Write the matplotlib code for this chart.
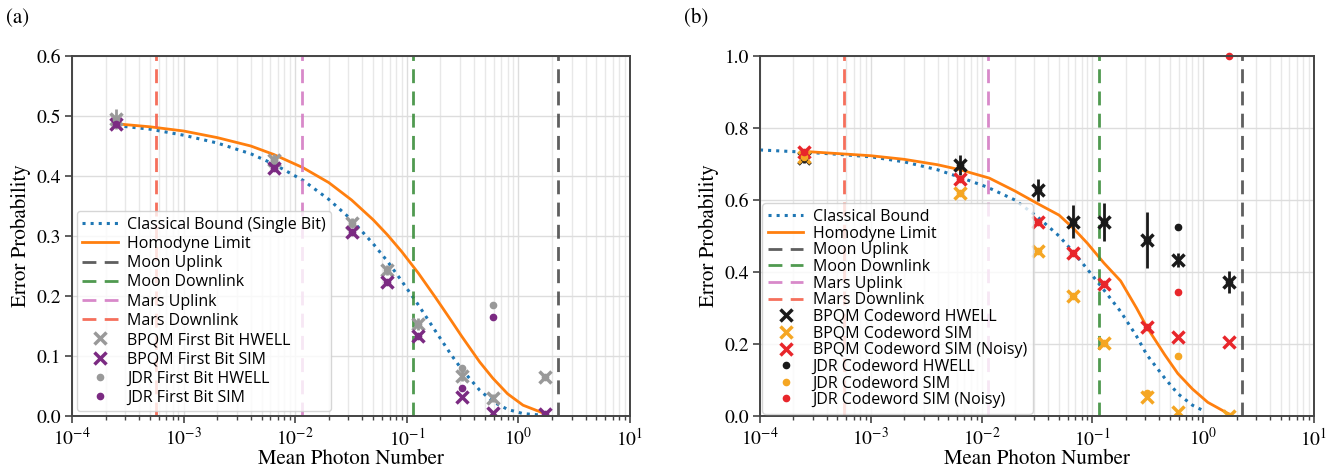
import matplotlib
matplotlib.use('Agg')
import matplotlib.pyplot as plt
from matplotlib.ticker import LogLocator, NullFormatter

plt.rcParams['font.family'] = 'serif'
plt.rcParams['font.serif'] = ['STIXGeneral', 'DejaVu Serif']
plt.rcParams['mathtext.fontset'] = 'stix'

# measurement points (mean photon number)
photon = [2.5e-4, 6.4e-3, 0.032, 0.067, 0.127, 0.31, 0.59, 1.72]

# panel (a): first bit
bpqm_bit_hwell = [0.495, 0.427, 0.322, 0.243, 0.153, 0.067, 0.030, 0.065]
bpqm_bit_hwell_err = [0.017, 0.010, 0.008, 0.008, 0.010, 0.008, 0.006, 0.004]
bpqm_bit_sim = [0.486, 0.413, 0.307, 0.223, 0.133, 0.032, 0.005, 0.003]
jdr_bit_hwell = [0.495, 0.427, 0.322, 0.243, 0.153, 0.080, 0.185, 0.065]
jdr_bit_sim = [0.486, 0.413, 0.307, 0.223, 0.133, 0.047, 0.165, 0.003]

# panel (b): codeword
bpqm_cw_hwell = [0.717, 0.697, 0.628, 0.540, 0.540, 0.489, 0.433, 0.372]
bpqm_cw_hwell_err = [0.015, 0.028, 0.030, 0.045, 0.053, 0.078, 0.020, 0.030]
bpqm_cw_sim = [0.720, 0.620, 0.458, 0.333, 0.203, 0.052, 0.010, 0.0]
bpqm_cw_noisy = [0.733, 0.658, 0.540, 0.453, 0.367, 0.247, 0.220, 0.206]
jdr_cw_hwell = [0.717, 0.697, 0.628, 0.540, 0.540, 0.489, 0.525, 0.372]
jdr_cw_sim = [0.720, 0.620, 0.458, 0.333, 0.203, 0.063, 0.167, 0.0]
jdr_cw_noisy = [0.733, 0.658, 0.540, 0.453, 0.367, 0.247, 0.344, 1.0]

# theory curves
curve_x = [2.5e-4, 5e-4, 1e-3, 2e-3, 4e-3, 6.4e-3, 0.0117, 0.02, 0.032, 0.05,
           0.067, 0.09, 0.127, 0.18, 0.25, 0.31, 0.45, 0.59, 0.8, 1.1, 1.72]
classical_bit = [0.484, 0.478, 0.468, 0.455, 0.437, 0.420, 0.393, 0.361, 0.327,
                 0.287, 0.258, 0.225, 0.185, 0.142, 0.102, 0.078, 0.043, 0.024,
                 0.011, 0.004, 0.001]
homodyne_bit = [0.487, 0.482, 0.475, 0.464, 0.450, 0.436, 0.414, 0.389, 0.360,
                0.327, 0.302, 0.274, 0.238, 0.198, 0.159, 0.133, 0.090, 0.063,
                0.037, 0.018, 0.004]

cw_class_x = [1e-4, 2.5e-4, 5e-4, 1e-3, 2e-3, 4e-3, 6.4e-3, 0.0112, 0.02, 0.032,
              0.05, 0.067, 0.09, 0.127, 0.18, 0.25, 0.31, 0.45, 0.59, 0.8, 1.0]
classical_cw = [0.739, 0.733, 0.727, 0.720, 0.706, 0.684, 0.663, 0.636, 0.600,
                0.553, 0.500, 0.456, 0.408, 0.350, 0.290, 0.222, 0.170, 0.105,
                0.062, 0.030, 0.015]
homodyne_cw = [0.735, 0.729, 0.723, 0.713, 0.698, 0.684, 0.661, 0.625, 0.590,
               0.558, 0.522, 0.480, 0.425, 0.375, 0.300, 0.247, 0.170, 0.118,
               0.075, 0.038, 0.005]

links = ['Moon Uplink', 'Moon Downlink', 'Mars Uplink', 'Mars Downlink']
link_photon = [2.25, 0.114, 0.0115, 5.7e-4]
link_colors = ['#4d4d4d', '#3d8f3d', '#d47cc4', '#f4604a']

legend_font = {'family': 'Open Sans', 'size': 11.5}


def style_axes(ax, ymax, ystep):
    ax.set_xscale('log')
    ax.set_xlim(1e-4, 10)
    ax.set_ylim(0, ymax)
    ax.set_yticks([i * ystep for i in range(int(round(ymax / ystep)) + 1)])
    ax.xaxis.set_major_locator(LogLocator(base=10, numticks=10))
    ax.xaxis.set_minor_locator(LogLocator(base=10, subs=range(2, 10), numticks=50))
    ax.xaxis.set_minor_formatter(NullFormatter())
    ax.grid(True, which='major', color='#dddddd', linewidth=1)
    ax.grid(True, which='minor', axis='x', color='#e8e8e8', linewidth=1)
    ax.set_axisbelow(True)
    for s in ax.spines.values():
        s.set_color('#444444')
        s.set_linewidth(1.4)
    ax.tick_params(which='major', direction='out', length=5, width=1.2,
                   color='#444444', labelsize=14, pad=3)
    ax.tick_params(which='minor', direction='out', length=3, width=1,
                   color='#444444')
    ax.set_xlabel('Mean Photon Number', fontsize=15, labelpad=0)
    ax.set_ylabel('Error Probability', fontsize=15)


def draw_links(ax):
    for name, xv, c in zip(links, link_photon, link_colors):
        ax.axvline(xv, color=c, linestyle='--', linewidth=2, dashes=(5, 3),
                   alpha=0.9, label=name)


def add_legend(ax, pad, spacing):
    ax.legend(loc='lower left', prop=legend_font, labelspacing=spacing,
              handlelength=2.2, handletextpad=0.6, borderpad=0.35,
              borderaxespad=pad, framealpha=0.8, edgecolor='#cccccc')


fig = plt.figure(figsize=(13.38, 4.72), dpi=100)
ax1 = fig.add_axes([72 / 1338, 56 / 472, 558 / 1338, 360 / 472])
ax2 = fig.add_axes([760 / 1338, 56 / 472, 554 / 1338, 360 / 472])

# (a)
style_axes(ax1, 0.6, 0.1)
ax1.plot(curve_x, classical_bit, color='#1f77b4', linestyle=':', linewidth=2.2,
         label='Classical Bound (Single Bit)')
ax1.plot(curve_x, homodyne_bit, color='#ff7f0e', linewidth=2,
         label='Homodyne Limit')
draw_links(ax1)
ax1.errorbar(photon, bpqm_bit_hwell, yerr=bpqm_bit_hwell_err, fmt='none',
             ecolor='#999999', elinewidth=2)
ax1.plot(photon, bpqm_bit_hwell, 'x', color='#999999', ms=9, mew=2.5,
         label='BPQM First Bit HWELL')
ax1.plot(photon, bpqm_bit_sim, 'x', color='#7b2a82', ms=9, mew=2.5,
         label='BPQM First Bit SIM')
ax1.plot(photon, jdr_bit_hwell, 'o', color='#999999', ms=4.5,
         label='JDR First Bit HWELL')
ax1.plot(photon, jdr_bit_sim, 'o', color='#7b2a82', ms=4.5,
         label='JDR First Bit SIM')
add_legend(ax1, 0.3, 0.2)

# (b)
style_axes(ax2, 1.0, 0.2)
ax2.plot(cw_class_x, classical_cw, color='#1f77b4', linestyle=':',
         linewidth=2.2, label='Classical Bound')
ax2.plot(curve_x, homodyne_cw, color='#ff7f0e', linewidth=2,
         label='Homodyne Limit')
draw_links(ax2)
ax2.errorbar(photon, bpqm_cw_hwell, yerr=bpqm_cw_hwell_err, fmt='none',
             ecolor='#1a1a1a', elinewidth=2)
ax2.plot(photon, bpqm_cw_hwell, 'x', color='#1a1a1a', ms=9, mew=2.5,
         label='BPQM Codeword HWELL')
ax2.plot(photon, bpqm_cw_sim, 'x', color='#f5a623', ms=9, mew=2.5,
         label='BPQM Codeword SIM')
ax2.plot(photon, bpqm_cw_noisy, 'x', color='#e8262b', ms=9, mew=2.5,
         label='BPQM Codeword SIM (Noisy)')
ax2.plot(photon, jdr_cw_hwell, 'o', color='#1a1a1a', ms=4.5,
         label='JDR Codeword HWELL')
ax2.plot(photon, jdr_cw_sim, 'o', color='#f5a623', ms=4.5,
         label='JDR Codeword SIM')
ax2.plot(photon, jdr_cw_noisy, 'o', color='#e8262b', ms=4.5, clip_on=False,
         label='JDR Codeword SIM (Noisy)')
add_legend(ax2, 0.15, 0.04)

fig.text(6 / 1338, 1 - 18 / 472, '(a)', fontsize=15, va='center')
fig.text(684 / 1338, 1 - 18 / 472, '(b)', fontsize=15, va='center')

fig.savefig('out.png', dpi=100)
